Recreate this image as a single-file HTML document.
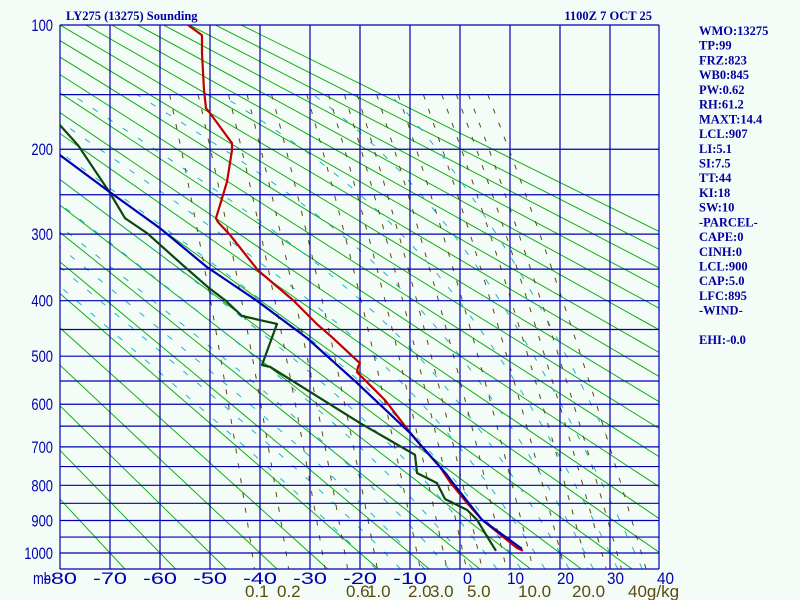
<!DOCTYPE html>
<html><head><meta charset="utf-8"><style>
html,body{margin:0;padding:0;background:#f4fcf8;}
svg{display:block;}
.pl{font-family:"Liberation Sans",sans-serif;font-size:17px;fill:#0000b0;}
.ml{font-family:"Liberation Sans",sans-serif;font-size:17px;fill:#5a4a10;}
.bt{font-family:"Liberation Serif",serif;font-weight:bold;font-size:12.5px;fill:#0000a0;}
</style></head><body>
<svg id="chart" width="800" height="600" viewBox="0 0 800 600" xmlns="http://www.w3.org/2000/svg">
<rect x="0" y="0" width="800" height="600" fill="#f4fcf8"/>
<defs><clipPath id="plotclip"><rect x="60" y="25" width="599" height="544"/></clipPath>
<clipPath id="wclip"><polygon id="wpoly" points="0,0"/></clipPath></defs>
<g id="adiabats" clip-path="url(#plotclip)"></g>
<g id="moist" clip-path="url(#plotclip)"><g id="moistIn" clip-path="url(#wclip)"></g></g>
<g id="mixing" clip-path="url(#plotclip)"></g>
<g id="grid"></g>
<g id="series" clip-path="url(#plotclip)"></g>
<g id="labels"></g>
<text class="bt" x="66" y="20">LY275 (13275) Sounding</text>
<text class="bt" x="652" y="20" text-anchor="end">1100Z  7 OCT 25</text>
<g id="stats"></g>
</svg>
<script>
const pressureTicks=[100,200,300,400,500,600,700,800,900,1000];
const pressureLines=[100,150,200,250,300,350,400,450,500,550,600,650,700,750,800,850,900,950,1000];
const tempTicks=[-80,-70,-60,-50,-40,-30,-20,-10,0,10,20,30,40];
const mixingRatios=[0.1,0.2,0.4,0.6,1,2,3,4,5,7,10,15,20,25,30,40];
const mixLabels=["0.1","0.2","0.6","1.0","2.0","3.0","5.0","10.0","20.0","40g/kg"];
const mixLabelX=[245,277,346,367,408,430,467,518,572,628];
const dryThetas=[-70,-60,-50,-40,-30,-20,-10,0,10,20,30,40,50,60,70,80,90,100,110,120,130,140,150,160,170];
const moistStarts=[-20,-15,-10,-5,0,5,10,15,20,25,30,35,40];
const tempP=[100,106.5,118.6,146.3,161.5,165.8,194,201,235,279,284,301,352,399,442,464,514,521,532,591,659,700,751,791,849,898,959,984,993];
const tempT=[-54.4,-51.6,-51.6,-51.2,-50.8,-50,-45.6,-45.6,-46.6,-48.8,-48.4,-46,-40.4,-33.4,-28.4,-25.6,-20,-20.4,-20.6,-15,-10.4,-7.6,-4,-2,1.4,4.4,9.4,11.4,12.6];
const dewP=[165,176.7,196,248,279,298.6,347,378,399,426,440,517.5,521,643,720,767,794,838,869,898,953,993];
const dewT=[-83,-80,-76.4,-70,-67,-62.6,-55,-50.4,-47,-43.6,-36.6,-39.6,-38,-20,-9,-8.6,-4.6,-3,1.4,3.4,5.6,7.2];
const parcelP=[181.4,206,247,292,347,399,465.5,554,666,772,794,898,953,987];
const parcelT=[-86.8,-80,-70,-60,-50.6,-40.8,-30.6,-20.6,-10,-2.6,-1.4,4.4,9.4,12.4];
const statLines=["WMO:13275","TP:99","FRZ:823","WB0:845","PW:0.62","RH:61.2","MAXT:14.4","LCL:907","LI:5.1","SI:7.5","TT:44","KI:18","SW:10","-PARCEL-","CAPE:0","CINH:0","LCL:900","CAP:5.0","LFC:895","-WIND-","","EHI:-0.0"];

const NS="http://www.w3.org/2000/svg";
const K=0.286, S100=Math.pow(0.1,K);
function yOf(p){return 25+528*(Math.pow(p/1000,K)-S100)/(1-S100);}
function xOf(t){return 460+5*t;}
function mk(tag,parent,attrs){const e=document.createElementNS(NS,tag);for(const k in attrs)e.setAttribute(k,attrs[k]);parent.appendChild(e);return e;}
function pts(arr){return arr.map(a=>a[0].toFixed(1)+","+a[1].toFixed(1)).join(" ");}
const PBOT=1052;

const gA=document.getElementById('adiabats');
dryThetas.forEach(th=>{
  const a=[];[100,PBOT].forEach(p=>{const T=(th+273.15)*Math.pow(p/1000,K)-273.15;a.push([xOf(T),yOf(p)]);});
  const l=mk('polyline',gA,{points:pts(a),fill:'none',stroke:'#10b010','stroke-width':1});
  
  
});
function tdOf(w,p){const e=w*p/(622+w);const L=Math.log(e/6.112);return 243.5*L/(17.67-L);}
const gM=document.getElementById('mixing');
let w40=[];
mixingRatios.forEach(w=>{
  const a=[];for(let p=150;p<=PBOT;p+=10)a.push([xOf(tdOf(w,p)),yOf(p)]);
  if(w===40)w40=a;
  const l=mk('polyline',gM,{points:pts(a),fill:'none',stroke:'#5a4a10','stroke-width':1,'stroke-dasharray':'5,10'});
  
  
});
document.getElementById('wpoly').setAttribute('points',pts([[0,yOf(150)]].concat(w40).concat([[0,600]])));
const gMo=document.getElementById('moistIn');
function es(t){return 6.112*Math.exp(17.67*t/(t+243.5));}
function dTdp(T,p){const Tc=T-273.15;const e=es(Tc);const rs=0.622*e/(p-e);const Lv=2.5e6,Rd=287,cp=1005;
  return (Rd*T+Lv*rs)/p/(cp+Lv*Lv*rs*0.622/(Rd*T*T));}
moistStarts.forEach(t0=>{
  let T=t0+273.15,a=[];
  let Td=T;for(let p=1000;p<PBOT;p+=2){Td+=dTdp(Td,p)*2;}
  T=Td;
  for(let p=PBOT;p>=150;p-=2){a.push([xOf(T-273.15),yOf(p)]);T-=dTdp(T,p)*2;}
  const l=mk('polyline',gMo,{points:pts(a),fill:'none',stroke:'#20b0c8','stroke-width':1,'stroke-dasharray':'6,12'});
  
  
});
const gG=document.getElementById('grid');
pressureLines.forEach(p=>{const y=yOf(p);
  const l=mk('line',gG,{x1:60,x2:659,y1:y,y2:y,stroke:'#0000b0','stroke-width':1.2});
  
  
});
tempTicks.forEach(t=>{const x=Math.min(xOf(t),659);
  const l=mk('line',gG,{x1:x,x2:x,y1:25,y2:569,stroke:'#0000b0','stroke-width':1.2});
  
  
});
const bl=mk('line',gG,{x1:60,x2:659,y1:569,y2:569,stroke:'#0000b0','stroke-width':1.2});


const gS=document.getElementById('series');
function series(P,T,color,name){
  const a=P.map((p,i)=>[xOf(T[i]),yOf(p)]);
  const l=mk('polyline',gS,{points:pts(a),fill:'none',stroke:color,'stroke-width':2.2,'stroke-linejoin':'round'});
  
  
}
series(dewP,dewT,'#0c460c','dewpoint-line');
series(tempP,tempT,'#c00000','temperature-line');
series(parcelP,parcelT,'#0000b0','parcel-line');
const gL=document.getElementById('labels');
pressureTicks.forEach(p=>{
  const s=String(p);
  const t=mk('text',gL,{class:'pl',x:53,y:yOf(p)+6,'text-anchor':'end',textLength:s.length*7.2,lengthAdjust:'spacingAndGlyphs'});
  t.textContent=s;
  
  
});
tempTicks.forEach(v=>{
  const x=xOf(v);let t;
  if(v<0){t=mk('text',gL,{class:'pl',x:x-17,y:584,textLength:34,lengthAdjust:'spacingAndGlyphs'});}
  else if(v===0){t=mk('text',gL,{class:'pl',x:x+3,y:584,textLength:9,lengthAdjust:'spacingAndGlyphs'});}
  else {t=mk('text',gL,{class:'pl',x:x-3,y:584,textLength:17,lengthAdjust:'spacingAndGlyphs'});}
  t.textContent=String(v);
  
  
});
const mb=mk('text',gL,{class:'pl',x:33,y:584,textLength:18,lengthAdjust:'spacingAndGlyphs'});
mb.textContent='mb';


mixLabels.forEach((s,i)=>{
  const t=mk('text',gL,{class:'ml',x:mixLabelX[i],y:597});
  t.textContent=s;
  
  
});
const gT=document.getElementById('stats');
statLines.forEach((s,i)=>{
  if(!s)return;
  const t=mk('text',gT,{class:'bt',x:699,y:35+i*14.72});
  t.textContent=s;
  
  
});
</script>
</body></html>
